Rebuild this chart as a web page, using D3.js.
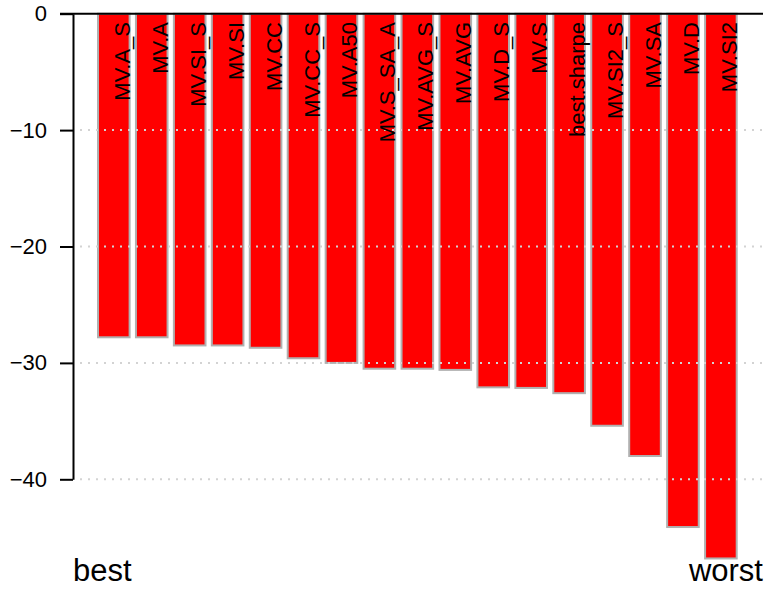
<!DOCTYPE html>
<html><head><meta charset="utf-8">
<script src="https://cdn.jsdelivr.net/npm/d3@7"></script>
<style>
html,body{margin:0;padding:0;background:#fff;}
text{font-family:"Liberation Sans",Arial,Helvetica,sans-serif;fill:#000;}
</style></head>
<body><svg id="chart" width="775" height="589"></svg>
<script>
const categories = ["MV.A_S","MV.A","MV.SI_S","MV.SI","MV.CC","MV.CC_S","MV.A50","MV.S_SA_A","MV.AVG_S","MV.AVG","MV.D_S","MV.S","best.sharpe","MV.SI2_S","MV.SA","MV.D","MV.SI2"];
const values = [-27.8,-27.8,-28.5,-28.5,-28.7,-29.6,-30.0,-30.5,-30.5,-30.6,-32.1,-32.15,-32.6,-35.4,-38.0,-44.1,-46.8];
const yTicks = [0,-10,-20,-30,-40];
const cornerLabels = ["best","worst"];

const svg = d3.select("#chart");
const x = d3.scaleBand().domain(categories).range([98, 736.7]).paddingInner(1/6).paddingOuter(0);
const y = d3.scaleLinear().domain([0,-40]).range([13.7, 479.3]);

// bars
svg.append("g").selectAll("rect").data(values).join("rect")
  .attr("x", (d,i)=>x(categories[i]))
  .attr("y", y(0))
  .attr("width", x.bandwidth())
  .attr("height", d=>y(d)-y(0))
  .attr("fill","#ff0000")
  .attr("stroke","#b0b0b0")
  .attr("stroke-width",2);

// grid (dotted, drawn over bars)
svg.append("g").selectAll("line").data(yTicks.filter(t=>t!==0)).join("line")
  .attr("x1",80).attr("x2",762)
  .attr("y1",d=>y(d)).attr("y2",d=>y(d))
  .attr("stroke","#d3d3d3").attr("stroke-width",2)
  .attr("stroke-dasharray","2,6");

// zero line
svg.append("line").attr("x1",60).attr("x2",763).attr("y1",y(0)).attr("y2",y(0))
  .attr("stroke","#000").attr("stroke-width",2);

// y axis
const ax = svg.append("g").attr("transform","translate(73,0)")
  .call(d3.axisLeft(y).tickValues(yTicks).tickSize(13).tickSizeOuter(0).tickPadding(13));
ax.attr("font-size",22).attr("font-family","'Liberation Sans',Arial,sans-serif");
ax.select(".domain").attr("stroke-width",2);
ax.selectAll(".tick line").attr("stroke-width",2);
ax.selectAll(".tick text").attr("fill","#000");

// bar labels
svg.append("g").selectAll("text").data(categories).join("text")
  .attr("transform", d=>`translate(${x(d)+x.bandwidth()/2+16},22) rotate(-90)`)
  .attr("text-anchor","end")
  .attr("font-size",22)
  .text(d=>d);

// corner labels
svg.append("text").attr("x",73).attr("y",580.5).attr("font-size",31).attr("text-anchor","start").text(cornerLabels[0]);
svg.append("text").attr("x",763).attr("y",580.5).attr("font-size",31).attr("text-anchor","end").text(cornerLabels[1]);
</script></body></html>
